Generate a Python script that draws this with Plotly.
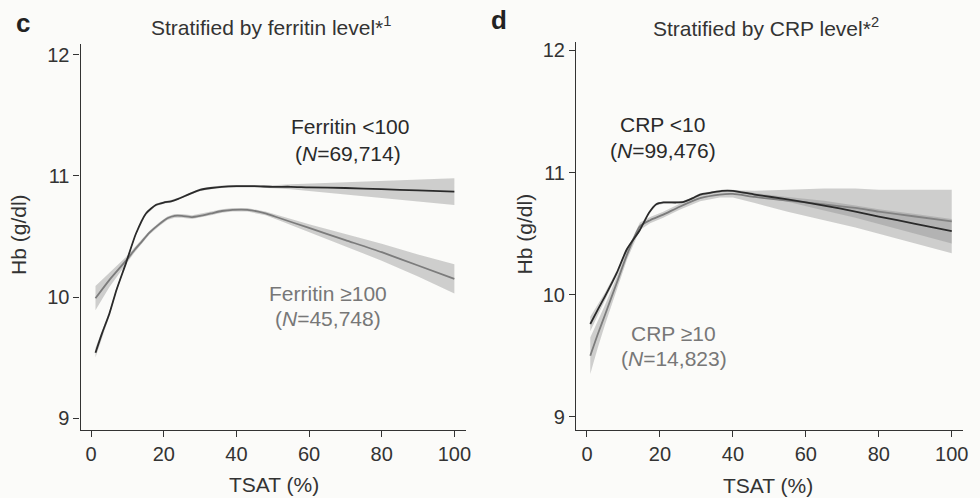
import plotly.graph_objects as go

# ---------------- Data ----------------
# Panel c: stratified by ferritin level
fer_lo_x = [1.2, 3, 5, 7, 9.6, 12.3, 15.1, 17.8, 20, 22, 24, 27, 30, 33, 36, 40, 45, 50, 55, 60, 70, 80, 90, 100]
fer_lo_y = [9.54, 9.70, 9.86, 10.06, 10.28, 10.52, 10.69, 10.76, 10.78, 10.79, 10.81, 10.85, 10.885, 10.90, 10.91,
            10.915, 10.915, 10.91, 10.91, 10.905, 10.90, 10.89, 10.88, 10.87]
fer_lo_ci = [0.04, 0.03, 0.02, 0.015, 0.01, 0.01, 0.01, 0.01, 0.01, 0.01, 0.01, 0.01, 0.01, 0.01, 0.01,
             0.01, 0.01, 0.012, 0.02, 0.03, 0.05, 0.07, 0.09, 0.11]

fer_hi_x = [1.2, 5, 9.6, 12, 14, 16, 18.7, 21, 23, 25, 27.8, 30, 33, 36, 39, 43, 48, 52, 60, 70, 80, 90, 100]
fer_hi_y = [9.99, 10.14, 10.30, 10.39, 10.46, 10.53, 10.60, 10.65, 10.67, 10.67, 10.66, 10.67, 10.69, 10.71,
            10.72, 10.72, 10.69, 10.65, 10.57, 10.47, 10.37, 10.26, 10.15]
fer_hi_ci = [0.10, 0.06, 0.03, 0.02, 0.015, 0.015, 0.015, 0.015, 0.015, 0.015, 0.015, 0.015, 0.015, 0.015,
             0.015, 0.015, 0.015, 0.02, 0.03, 0.05, 0.07, 0.09, 0.12]

# Panel d: stratified by CRP level
crp_lo_x = [0.9, 3, 5, 8.2, 10.9, 14.5, 17, 19, 21, 24.5, 26.5, 29, 31, 34, 37, 40, 46, 55, 65, 73.6, 80, 90, 100]
crp_lo_y = [9.76, 9.88, 9.99, 10.18, 10.37, 10.53, 10.67, 10.74, 10.755, 10.755, 10.76, 10.79, 10.82, 10.835,
            10.85, 10.85, 10.82, 10.78, 10.73, 10.68, 10.64, 10.58, 10.52]
crp_lo_ci = [0.06, 0.04, 0.03, 0.02, 0.015, 0.01, 0.01, 0.01, 0.01, 0.01, 0.01, 0.01, 0.01, 0.01,
             0.01, 0.01, 0.012, 0.02, 0.04, 0.05, 0.06, 0.08, 0.10]

crp_hi_x = [0.9, 3, 5, 8.2, 11, 14.5, 17.3, 20.9, 25.4, 31, 36.4, 40, 46, 55, 65, 73.6, 80, 90, 100]
crp_hi_y = [9.50, 9.68, 9.84, 10.10, 10.33, 10.56, 10.61, 10.655, 10.72, 10.79, 10.82, 10.825, 10.80,
            10.77, 10.74, 10.71, 10.68, 10.64, 10.60]
crp_hi_ci = [0.15, 0.11, 0.08, 0.05, 0.04, 0.03, 0.025, 0.025, 0.025, 0.025, 0.025, 0.03, 0.05,
             0.09, 0.13, 0.16, 0.18, 0.22, 0.26]

x_ticks = [0, 20, 40, 60, 80, 100]
y_ticks = [9, 10, 11, 12]

DARK = "#2a2a2a"
LIGHT = "#7c7c7c"
BAND = "rgba(140,140,140,0.40)"
FONT = "Liberation Sans, Arial, sans-serif"

fig = go.Figure()


def add_series(x, y, ci, color, xa, ya):
    upper = [v + c for v, c in zip(y, ci)]
    lower = [v - c for v, c in zip(y, ci)]
    fig.add_trace(go.Scatter(x=x + x[::-1], y=upper + lower[::-1], fill="toself", fillcolor=BAND,
                             line=dict(width=0), mode="lines", hoverinfo="skip", showlegend=False,
                             xaxis=xa, yaxis=ya))
    fig.add_trace(go.Scatter(x=x, y=y, mode="lines", line=dict(color=color, width=1.8, shape="spline", smoothing=0.6),
                             showlegend=False, xaxis=xa, yaxis=ya))


add_series(fer_hi_x, fer_hi_y, fer_hi_ci, LIGHT, "x", "y")
add_series(fer_lo_x, fer_lo_y, fer_lo_ci, DARK, "x", "y")
add_series(crp_hi_x, crp_hi_y, crp_hi_ci, LIGHT, "x2", "y2")
add_series(crp_lo_x, crp_lo_y, crp_lo_ci, DARK, "x2", "y2")

axis_common = dict(showline=True, linecolor="#333", linewidth=1.3, ticks="outside", ticklen=6, tickwidth=1.3,
                   tickcolor="#333", showgrid=False, zeroline=False,
                   tickfont=dict(family=FONT, size=20, color="#333"))

fig.update_layout(
    width=980, height=498,
    margin=dict(l=0, r=0, t=0, b=0),
    paper_bgcolor="#fbfbf9", plot_bgcolor="#fbfbf9",
    xaxis=dict(domain=[81 / 980, 468 / 980], range=[-2.9, 103.1], tickvals=x_ticks, anchor="y", **axis_common),
    yaxis=dict(domain=[68 / 498, 456 / 498], range=[8.9, 12.09], tickvals=y_ticks, anchor="x", **axis_common),
    xaxis2=dict(domain=[579 / 980, 968 / 980], range=[-3.0, 103.1], tickvals=x_ticks, anchor="y2", **axis_common),
    yaxis2=dict(domain=[68 / 498, 458 / 498], range=[8.89, 12.07], tickvals=y_ticks, anchor="x2", **axis_common),
    font=dict(family=FONT, color="#333"),
)

ann = []


def paper_text(text, px, py, size=20, angle=0, bold=False, color="#333"):
    ann.append(dict(text=("<b>%s</b>" % text) if bold else text, x=px / 980, y=1 - py / 498,
                    xref="paper", yref="paper", xanchor="center", yanchor="middle",
                    showarrow=False, textangle=angle, font=dict(family=FONT, size=size, color=color)))


def data_text(text, x, y, xr, yr, color):
    ann.append(dict(text=text, x=x, y=y, xref=xr, yref=yr, xanchor="center", yanchor="middle",
                    showarrow=False, font=dict(family=FONT, size=21, color=color)))


paper_text("c", 23, 21, size=26, bold=True, color="#222")
paper_text("d", 502, 18, size=26, bold=True, color="#222")
paper_text("Stratified by ferritin level*<sup>1</sup>", 272, 24, size=21)
paper_text("Stratified by CRP level*<sup>2</sup>", 770, 25, size=21)
paper_text("Hb (g/dl)", 18, 233, angle=-90, size=21)
paper_text("Hb (g/dl)", 527, 233, angle=-90, size=21)
paper_text("TSAT (%)", 275, 484, size=21)
paper_text("TSAT (%)", 772, 485, size=21)

data_text("Ferritin <100", 71.3, 11.405, "x", "y", "#2a2a2a")
data_text("(<i>N</i>=69,714)", 70.7, 11.183, "x", "y", "#2a2a2a")
data_text("Ferritin ≥100", 65.3, 10.027, "x", "y", "#777")
data_text("(<i>N</i>=45,748)", 65.3, 9.82, "x", "y", "#777")
data_text("CRP <10", 20.7, 11.39, "x2", "y2", "#2a2a2a")
data_text("(<i>N</i>=99,476)", 20.9, 11.18, "x2", "y2", "#2a2a2a")
data_text("CRP ≥10", 23.7, 9.68, "x2", "y2", "#777")
data_text("(<i>N</i>=14,823)", 23.9, 9.475, "x2", "y2", "#777")

fig.update_layout(annotations=ann)
fig.write_html("out.html")
